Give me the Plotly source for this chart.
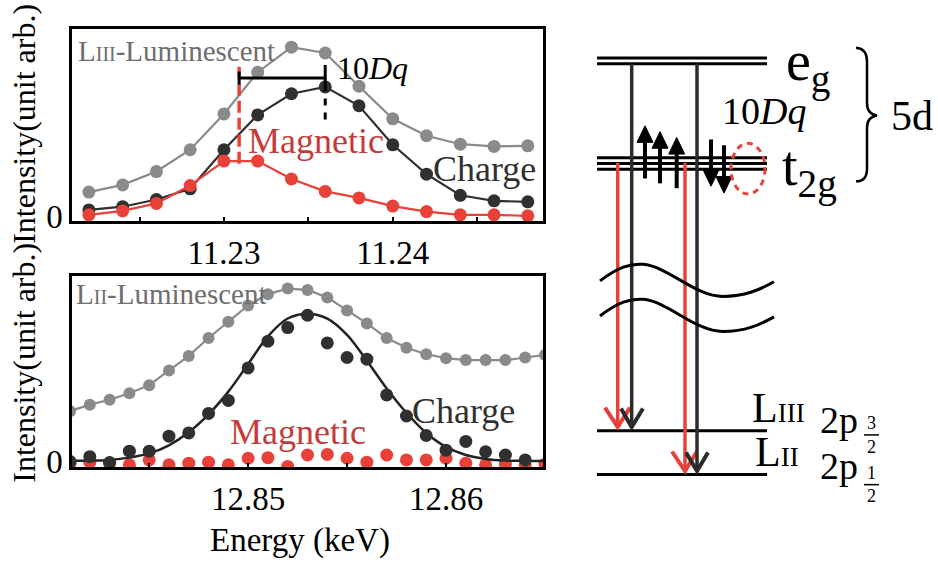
import plotly.graph_objects as go

W, H = 938, 563
SERIF = "Liberation Serif, Times New Roman, serif"
GRAY = "#8a8a8a"
DARK = "#303030"
RED = "#e8413a"
RED_TXT = "#c43b3b"

# ---------------- L_III edge scan ----------------
e_l3 = [11.222, 11.224, 11.226, 11.228, 11.230, 11.232, 11.234,
        11.236, 11.238, 11.240, 11.242, 11.244, 11.246, 11.248]
lum_l3 = [0.75, 0.97, 1.38, 2.05, 3.15, 4.43, 5.20,
          5.02, 4.00, 3.00, 2.48, 2.22, 2.15, 2.17]
charge_l3 = [0.20, 0.30, 0.52, 0.85, 2.05, 3.12, 3.77,
             3.98, 3.40, 2.20, 1.30, 0.65, 0.48, 0.45]
mag_l3 = [0.05, 0.17, 0.40, 0.95, 1.70, 1.70, 1.15,
          0.77, 0.57, 0.32, 0.15, 0.05, 0.05, 0.02]
mag_peak_l3 = 11.2309
charge_peak_l3 = 11.2360

# ---------------- L_II edge scan ----------------
e_l2 = [12.841, 12.842, 12.843, 12.844, 12.845, 12.846, 12.847, 12.848,
        12.849, 12.850, 12.851, 12.852, 12.853, 12.854, 12.855, 12.856,
        12.857, 12.858, 12.859, 12.860, 12.861, 12.862, 12.863, 12.864,
        12.865]
lum_l2 = [1.55, 1.75, 1.90, 2.10, 2.35, 2.80, 3.25, 3.80, 4.30, 4.80,
          5.15, 5.32, 5.28, 5.05, 4.65, 4.25, 3.80, 3.50, 3.30, 3.18,
          3.12, 3.12, 3.12, 3.20, 3.28]
charge_l2 = [0.00, 0.15, -0.03, 0.32, 0.32, 0.78, 0.88, 1.48, 1.88, 2.88,
             3.70, 4.12, 4.50, 3.65, 3.20, 3.15, 2.05, 1.40, 0.80, 0.35,
             0.62, 0.30, 0.20, 0.05]
fit_l2 = [0.02, 0.03, 0.05, 0.12, 0.25, 0.50, 0.90, 1.45, 2.15, 3.00,
          3.85, 4.40, 4.55, 4.40, 3.90, 3.10, 2.25, 1.50, 0.88, 0.45,
          0.20, 0.08, 0.03, 0.02, 0.02]
mag_l2 = [-0.05, -0.02, -0.05, -0.10, 0.05, -0.10, -0.05, -0.02, -0.10, 0.10,
          0.12, -0.15, 0.20, 0.22, 0.10, -0.02, 0.20, 0.05, 0.05, 0.10,
          -0.05, -0.10, -0.08, -0.10, -0.08]

major_l3 = [11.23, 11.24]
minor_l3 = [11.225, 11.235, 11.245]
major_l2 = [12.85, 12.86]
minor_l2 = [12.845, 12.855]

fig = go.Figure()

# top panel
fig.add_trace(go.Scatter(x=e_l3, y=lum_l3, mode="lines+markers", xaxis="x", yaxis="y",
                         line=dict(color=GRAY, width=2.2), marker=dict(color=GRAY, size=13)))
fig.add_trace(go.Scatter(x=e_l3, y=charge_l3, mode="lines+markers", xaxis="x", yaxis="y",
                         line=dict(color=DARK, width=2.2), marker=dict(color=DARK, size=13)))
fig.add_trace(go.Scatter(x=e_l3, y=mag_l3, mode="lines+markers", xaxis="x", yaxis="y",
                         line=dict(color=RED, width=2.2), marker=dict(color=RED, size=13)))

# bottom panel
fig.add_trace(go.Scatter(x=e_l2, y=lum_l2, mode="lines+markers", xaxis="x2", yaxis="y2",
                         line=dict(color=GRAY, width=2.2), marker=dict(color=GRAY, size=12)))
fig.add_trace(go.Scatter(x=e_l2, y=mag_l2, mode="markers", xaxis="x2", yaxis="y2",
                         marker=dict(color=RED, size=13)))
fig.add_trace(go.Scatter(x=e_l2, y=fit_l2, mode="lines", xaxis="x2", yaxis="y2",
                         line=dict(color="#222222", width=2.5, shape="spline")))
fig.add_trace(go.Scatter(x=e_l2[:len(charge_l2)], y=charge_l2, mode="markers", xaxis="x2", yaxis="y2",
                         marker=dict(color=DARK, size=13)))

# invisible pixel-space axes for the level scheme
fig.add_trace(go.Scatter(x=[], y=[], xaxis="x3", yaxis="y3"))

axis_common = dict(showline=True, linewidth=2.5, linecolor="black", mirror=True,
                   showgrid=False, zeroline=False,
                   tickfont=dict(family=SERIF, size=33, color="black"))
xtick_style = dict(ticks="inside", ticklen=5, tickwidth=2, tickcolor="black")

x_dom = [72 / W, 543 / W]
fig.update_layout(
    width=W, height=H, showlegend=False,
    margin=dict(l=0, r=0, t=0, b=0),
    paper_bgcolor="white", plot_bgcolor="rgba(0,0,0,0)",
    xaxis=dict(domain=x_dom, anchor="y", range=[11.2210, 11.2489],
               tickvals=major_l3, ticktext=[f"{v:.2f}" for v in major_l3],
               minor=dict(tickvals=minor_l3, **xtick_style), **xtick_style, **axis_common),
    yaxis=dict(domain=[1 - 227 / H, 1 - 30 / H], anchor="x", range=[-0.15, 5.75],
               tickvals=[0], ticktext=["0"], ticks="", **axis_common),
    xaxis2=dict(domain=x_dom, anchor="y2", range=[12.8411, 12.8649],
                tickvals=major_l2, ticktext=[f"{v:.2f}" for v in major_l2],
                minor=dict(tickvals=minor_l2, **xtick_style), **xtick_style, **axis_common),
    yaxis2=dict(domain=[1 - 479.3 / H, 1 - 283.3 / H], anchor="x2", range=[-0.18, 5.70],
                tickvals=[0], ticktext=["0"], ticks="", **axis_common),
    xaxis3=dict(domain=[0, 1], anchor="y3", range=[0, W], visible=False, fixedrange=True),
    yaxis3=dict(domain=[0, 1], anchor="x3", range=[H, 0], visible=False, fixedrange=True),
)

shapes = []
ann = []

# ---- 10Dq marker in the top panel ----
shapes.append(dict(type="line", xref="x", yref="y", x0=mag_peak_l3, x1=mag_peak_l3,
                   y0=4.60, y1=1.55, line=dict(color=RED, width=3.5, dash="12px,5px")))
shapes.append(dict(type="line", xref="x", yref="y", x0=charge_peak_l3, x1=charge_peak_l3,
                   y0=4.05, y1=2.85, line=dict(color="black", width=3, dash="7px,7px")))
shapes.append(dict(type="line", xref="x", yref="y", x0=charge_peak_l3, x1=charge_peak_l3,
                   y0=4.65, y1=4.05, line=dict(color="black", width=3)))
shapes.append(dict(type="line", xref="x", yref="y", x0=mag_peak_l3, x1=mag_peak_l3,
                   y0=4.45, y1=4.05, line=dict(color="black", width=3)))
shapes.append(dict(type="line", xref="x", yref="y", x0=mag_peak_l3, x1=charge_peak_l3,
                   y0=4.25, y1=4.25, line=dict(color="black", width=3)))


def label(text, x, y, size, color="black", xanchor="left", **kw):
    ann.append(dict(text=text, x=x, y=y, xref="x3", yref="y3", xanchor=xanchor,
                    yanchor="middle", showarrow=False,
                    font=dict(family=SERIF, size=size, color=color), **kw))


# panel labels (pixel positions via the overlay axes)
label('L<span style="font-size:20px">III</span>-Luminescent', 76, 52, 29, "#6e6e6e")
label("10<i>Dq</i>", 335, 70, 32)
label("Magnetic", 246, 145, 36, RED_TXT)
label("Charge", 431, 173, 36, DARK)
label('L<span style="font-size:20px">II</span>-Luminescent', 74, 301, 29, "#6e6e6e")
label("Charge", 410, 421, 36, DARK)
label("Magnetic", 228, 443, 36, RED_TXT)

label("Intensity(unit arb.)", 24, 127, 32, textangle=-90, xanchor="center")
label("Intensity(unit arb.)", 24, 372, 32, textangle=-90, xanchor="center")
label("Energy (keV)", 300, 554, 33, xanchor="center")

# ---- energy level scheme ----
LX0, LX1 = 597, 767
def hline(y, color="black", width=3):
    shapes.append(dict(type="line", xref="x3", yref="y3", x0=LX0, x1=LX1, y0=y, y1=y,
                       line=dict(color=color, width=width)))

def vline(x, y0, y1, color, width=3.5):
    shapes.append(dict(type="line", xref="x3", yref="y3", x0=x, x1=x, y0=y0, y1=y1,
                       line=dict(color=color, width=width)))

def path(d, color="black", width=3, fill=None):
    s = dict(type="path", xref="x3", yref="y3", path=d, line=dict(color=color, width=width))
    if fill:
        s["fillcolor"] = fill
    shapes.append(s)

def spin(x, tip, tail):
    # stem plus a filled triangular head; direction follows tip vs tail
    d = 1 if tail > tip else -1
    head = 17
    vline(x, tail, tip + d * (head - 2), "black", 4)
    path(f"M{x - 8},{tip + d * head} L{x},{tip} L{x + 8},{tip + d * head} Z",
         "black", 1, "black")

for y in (59.5, 65.5):
    hline(y)
for y in (161.7, 167.7, 173.5):
    hline(y)
hline(441.7)
hline(486.7)

# transitions
vline(617.7, 167, 437, RED)
vline(685.0, 167, 482, RED)
path("M605,418 L617.7,438 L630,418", RED, 4)
path("M672,463 L685,483 L697,463", RED, 4)
vline(631.7, 65, 437, "#2b2b2b")
vline(697.0, 65, 482, "#2b2b2b")
path("M621,419 L631.7,438 L643,419", "#2b2b2b", 4)
path("M686,464 L697,483 L708,464", "#2b2b2b", 4)

# axis break
path("M600,288 C618,274 630,270 643,271 C668,273 695,304 723,304 C745,304 760,297 774,289")
path("M600,324 C618,310 630,306 643,307 C668,309 695,340 723,340 C745,340 760,333 774,325")

# spins in t2g: three up, two down
spin(645, 129, 183)
spin(660, 135, 188)
spin(676.7, 141, 193)
spin(711, 191, 143)
spin(724, 198, 149)

# hole
shapes.append(dict(type="circle", xref="x3", yref="y3", x0=731, x1=765, y0=147, y1=199,
                   line=dict(color=RED, width=3, dash="6px,5px")))

# brace for 5d
path("M856,49 Q867,50 867,63 L867,106 Q867,117 877,118.5 Q867,120 867,131 L867,173 Q867,186 856,186",
     "black", 2.5)

label("e<sub>g</sub>", 784, 67, 56)
label("10<i>Dq</i>", 720, 114, 38)
label("t<sub>2g</sub>", 780, 175, 56)
label("5d", 889, 119, 42)

label('L<span style="font-size:27px">III</span>', 750, 418, 42)
label('L<span style="font-size:27px">II</span>', 753, 464, 42)
label("2p", 818, 431, 38)
label("2p", 818, 478, 38)
label("3", 871, 434, 18, xanchor="center")
label("2", 871, 458, 18, xanchor="center")
label("1", 871, 485, 18, xanchor="center")
label("2", 871, 509, 18, xanchor="center")
for y in (446, 497):
    shapes.append(dict(type="line", xref="x3", yref="y3", x0=864, x1=879, y0=y, y1=y,
                       line=dict(color="black", width=1.5)))

fig.update_layout(shapes=shapes, annotations=ann)
fig.write_html("out.html")
